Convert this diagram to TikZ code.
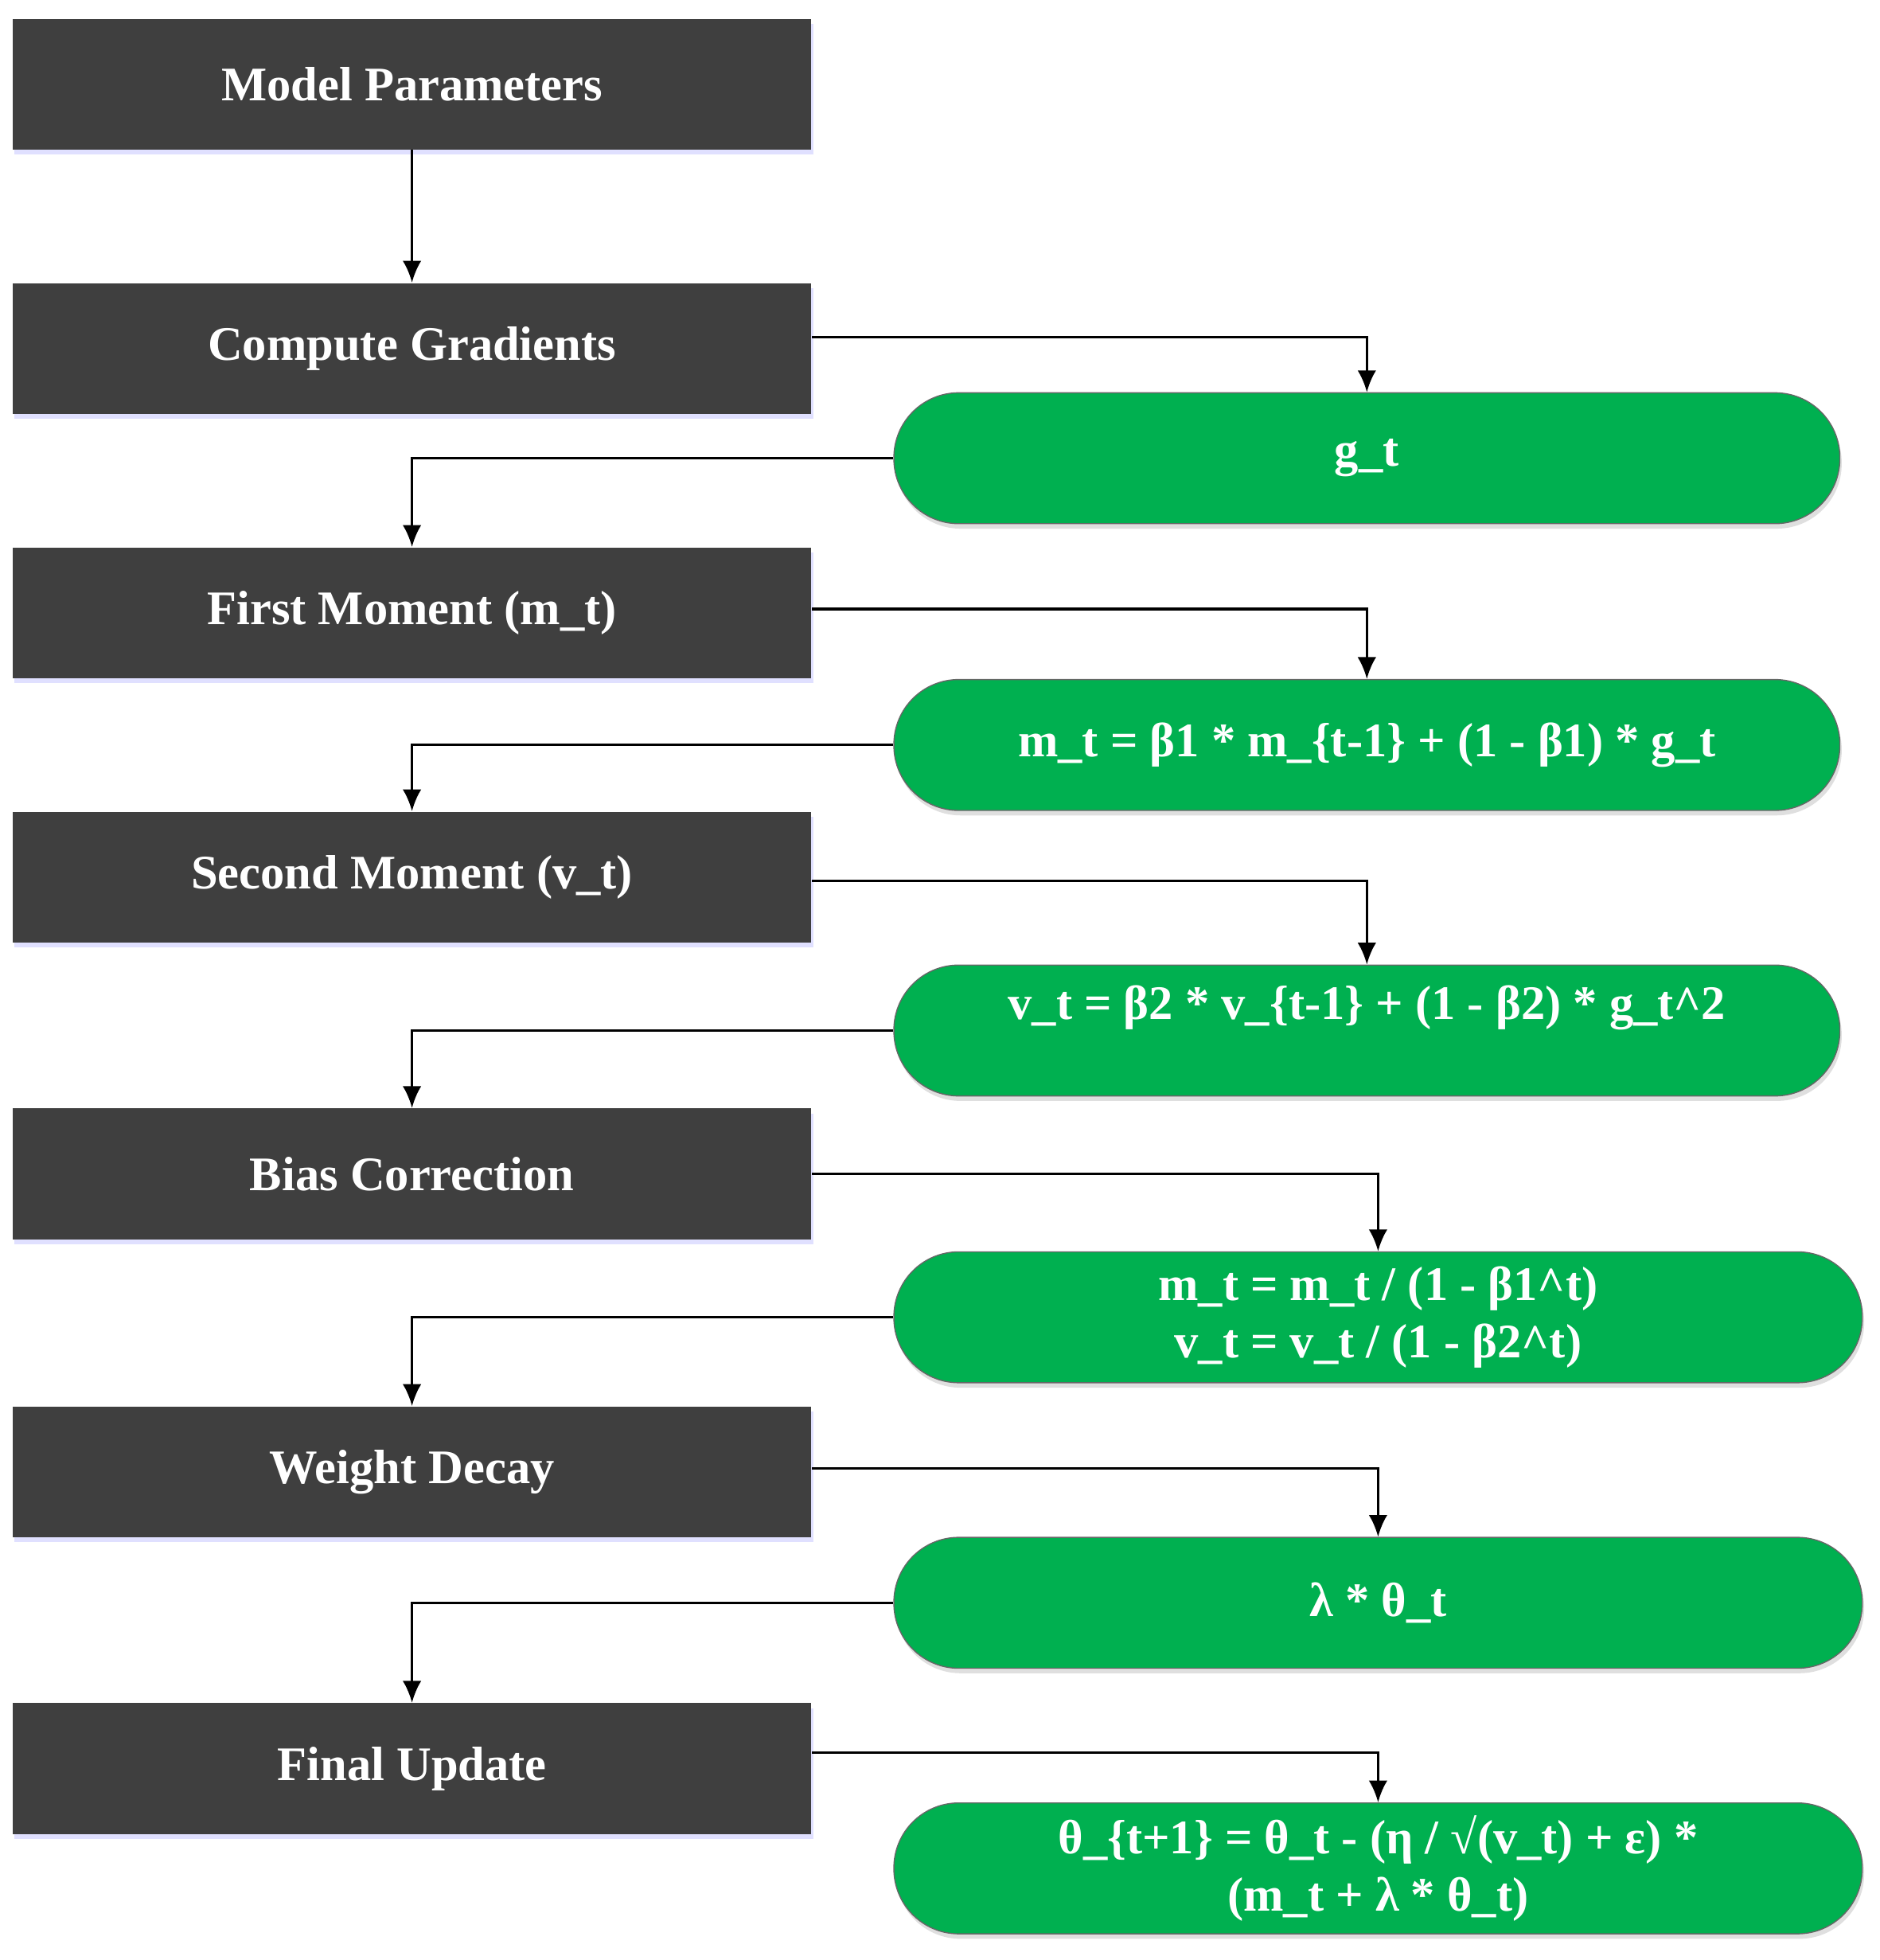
\documentclass[tikz,border=0pt]{standalone}
\usepackage{fontspec}
\setmainfont{Liberation Serif}
\usetikzlibrary{shadows,arrows.meta}
\definecolor{dk}{HTML}{3F3F3F}
\definecolor{gr}{HTML}{00B050}
\begin{document}
\begin{tikzpicture}[x=0.02cm,y=-0.02cm,
 dark/.style={fill=dk,draw=none,minimum width=12.82cm,minimum height=2.1cm,text=white,font=\bfseries\fontsize{22}{26}\selectfont,drop shadow={shadow xshift=0.03cm,shadow yshift=-0.08cm,fill=blue!20,opacity=0.6}},
 grn/.style={fill=gr,draw=black!60,line width=0.5pt,rounded corners=1.04cm,minimum height=2.1cm,text=white,align=center,font=\bfseries\fontsize{22}{26}\selectfont,drop shadow={shadow xshift=0.03cm,shadow yshift=-0.08cm,fill=black!25,opacity=0.5}},
 arr/.style={draw=black,line width=1.2pt,-{Latex[length=0.35cm,width=0.3cm]}}]
\useasboundingbox (0,0) rectangle (1508,1572);
\node[dark] (mp) at (330.5,67.5) {Model Parameters};
\node[dark] (cg) at (330.5,279.5) {Compute Gradients};
\node[dark] (fm) at (330.5,491.5) {First Moment (m\_t)};
\node[dark] (sm) at (330.5,703.5) {Second Moment (v\_t)};
\node[dark] (bc) at (330.5,941.5) {Bias Correction};
\node[dark] (wd) at (330.5,1180.5) {Weight Decay};
\node[dark] (fu) at (330.5,1418.5) {Final Update};
\node[grn,minimum width=15.18cm] (gt) at (1096.5,367.5) {g\_t};
\node[grn,minimum width=15.18cm] (mt) at (1096.5,597.5) {m\_t = β1 * m\_\{t-1\} + (1 - β1) * g\_t};
\node[grn,minimum width=15.18cm,text depth=0.9cm] (vt) at (1096.5,826.5) {v\_t = β2 * v\_\{t-1\} + (1 - β2) * g\_t\textasciicircum 2};
\node[grn,minimum width=15.54cm] (bb) at (1105.5,1056.5) {m\_t = m\_t / (1 - β1\textasciicircum t)\\v\_t = v\_t / (1 - β2\textasciicircum t)};
\node[grn,minimum width=15.54cm] (lt) at (1105.5,1285.5) {λ * θ\_t};
\node[grn,minimum width=15.54cm] (fin) at (1105.5,1498.5) {θ\_\{t+1\} = θ\_t - (η / √(v\_t) + ε) *\\(m\_t + λ * θ\_t)};
\draw[arr] (mp) -- (cg);
\draw[arr] (cg.east) ++(0,-9) -| (gt.north);
\draw[arr] (gt.west) -| (fm.north);
\draw[arr] (fm.east) ++(0,-3) -| (mt.north);
\draw[arr] (mt.west) -| (sm.north);
\draw[arr] (sm.east) ++(0,3) -| (vt.north);
\draw[arr] (vt.west) -| (bc.north);
\draw[arr] (bc.east) -| (bb.north);
\draw[arr] (bb.west) -| (wd.north);
\draw[arr] (wd.east) ++(0,-3) -| (lt.north);
\draw[arr] (lt.west) -| (fu.north);
\draw[arr] (fu.east) ++(0,-13) -| (fin.north);
\end{tikzpicture}
\end{document}
